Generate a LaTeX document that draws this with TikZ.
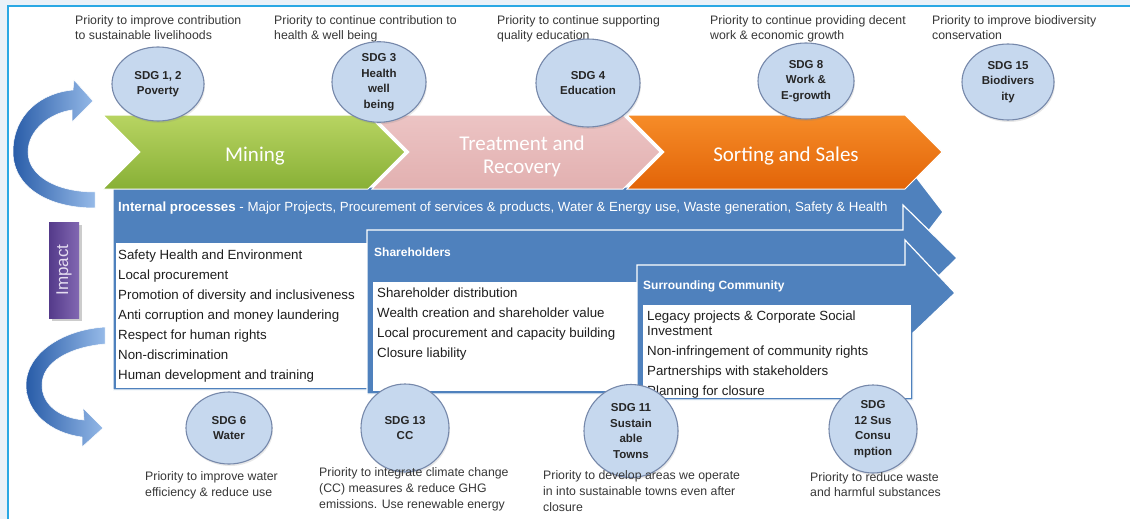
\documentclass[tikz,border=0pt]{standalone}
\usepackage{fontspec}
\setmainfont{Liberation Sans}
\newfontfamily\calib{Carlito}
\usetikzlibrary{shapes.geometric,shadows}
\definecolor{arrowblue}{RGB}{79,129,189}
\definecolor{sdgfill}{RGB}{198,216,238}
\definecolor{sdgline}{RGB}{118,136,170}
\definecolor{frameblue}{RGB}{42,168,228}
\definecolor{bgout}{RGB}{234,241,248}
\definecolor{captxt}{RGB}{55,55,55}
\definecolor{boxtxt}{RGB}{30,30,30}
\definecolor{greenT}{RGB}{184,212,98}
\definecolor{greenB}{RGB}{136,176,54}
\definecolor{pinkT}{RGB}{236,196,196}
\definecolor{pinkB}{RGB}{226,176,176}
\definecolor{orangeT}{RGB}{246,140,40}
\definecolor{orangeB}{RGB}{226,100,8}
\definecolor{cblueD}{RGB}{40,92,168}
\definecolor{cblueL}{RGB}{150,186,232}
\definecolor{purpD}{RGB}{84,58,138}
\definecolor{purpL}{RGB}{130,104,178}
\definecolor{imptxt}{RGB}{228,220,240}
\begin{document}
\begin{tikzpicture}[x=1pt,y=-1pt,
  captext/.style={anchor=base west, inner sep=0, text=captxt, font=\fontsize{12.3}{15}\selectfont},
  itemtext/.style={anchor=base west, inner sep=0, text=boxtxt, font=\fontsize{13.3}{16}\selectfont},
  hdrtext/.style={anchor=base west, inner sep=0, text=white, font=\bfseries\fontsize{12}{14}\selectfont},
  sdgnode/.style={ellipse, draw=sdgline, fill=sdgfill, line width=1.1pt, inner sep=0, align=center, text=black!85, font=\bfseries\fontsize{11.5}{15.5}\selectfont, drop shadow={opacity=0.18, shadow xshift=1pt, shadow yshift=-2pt}},
  stagetext/.style={inner sep=0, align=center, text=white, font=\calib\fontsize{21}{23}\selectfont},
  barrow/.style={fill=arrowblue, draw=white, line width=1.2pt},
  chevshape/.style={draw=white, line width=1pt},
  curvedarrow/.style={left color=cblueD, right color=cblueL, draw=white, line width=0.5pt},
  listbox/.style={fill=white, draw=none}
]
\useasboundingbox (0,0) rectangle (1130,519);
% frame
\fill[bgout] (0,0) rectangle (1130,519);
\fill[white] (8,6) rectangle (1130,519);
\draw[frameblue, line width=2pt] (8,519) -- (8,6) -- (1130,6);

% arrow 1 (internal processes), behind the chevrons
\path[barrow] (113,187) -- (903,187) -- (903,160) -- (943,212) -- (903,264) -- (903,390) -- (113,390) -- cycle;

% chevrons
\shade[chevshape, top color=greenT, bottom color=greenB]
  (103,115) -- (368,115) -- (405,152) -- (368,189) -- (103,189) -- (140,152) -- cycle;
\shade[chevshape, top color=pinkT, bottom color=pinkB]
  (372,115) -- (623,115) -- (660,152) -- (623,189) -- (372,189) -- (409,152) -- cycle;
\shade[chevshape, top color=orangeT, bottom color=orangeB]
  (627,115) -- (905,115) -- (942,152) -- (905,189) -- (627,189) -- (664,152) -- cycle;
\node[stagetext] (mining) at (255,156) {Mining};
\node[stagetext] (treat) at (522,156) {Treatment and\\Recovery};
\node[stagetext] (sort) at (786,156) {Sorting and Sales};

\node[hdrtext, font=\fontsize{13.3}{15}\selectfont] (internal) at (118,211.5) {\textbf{Internal processes} - Major Projects, Procurement of services \& products, Water \& Energy use, Waste generation, Safety \& Health};
\path[listbox] (115.5,243) rectangle (369,388);
\node[itemtext] (l1) at (118,259) {Safety Health and Environment};
\node[itemtext] (l2) at (118,279) {Local procurement};
\node[itemtext] (l3) at (118,299) {Promotion of diversity and inclusiveness};
\node[itemtext] (l4) at (118,319) {Anti corruption and money laundering};
\node[itemtext] (l5) at (118,339) {Respect for human rights};
\node[itemtext] (l6) at (118,359) {Non-discrimination};
\node[itemtext] (l7) at (118,379) {Human development and training};

% arrow 2 (shareholders)
\path[barrow] (367,230) -- (903,230) -- (903,205) -- (957,258) -- (903,311) -- (903,394) -- (367,394) -- cycle;
\node[hdrtext] (share) at (374,256.5) {Shareholders};
\path[listbox] (373,282) rectangle (638,391);
\node[itemtext] (s1) at (377,297) {Shareholder distribution};
\node[itemtext] (s2) at (377,317) {Wealth creation and shareholder value};
\node[itemtext] (s3) at (377,337) {Local procurement and capacity building};
\node[itemtext] (s4) at (377,357) {Closure liability};

% arrow 3 (surrounding community)
\path[barrow] (637,265) -- (905,265) -- (905,240) -- (955,293) -- (913,333) -- (913,400) -- (637,400) -- cycle;
\node[hdrtext] (comm) at (643,289.5) {Surrounding Community};
\path[listbox] (643,305) rectangle (910.5,398);
\begin{scope}
\clip (643,305) rectangle (910,398);
\node[itemtext] (c1) at (647,320) {Legacy projects \& Corporate Social};
\node[itemtext] (c2) at (647,335) {Investment};
\node[itemtext] (c3) at (647,355) {Non-infringement of community rights};
\node[itemtext] (c4) at (647,375) {Partnerships with stakeholders};
\node[itemtext] (c5) at (647,395) {Planning for closure};
\end{scope}

% curved arrows
\shade[curvedarrow] (95,192) -- (95,208)
  .. controls (45,208) and (12,185) .. (13,150)
  .. controls (14,115) and (40,93) .. (73,90)
  -- (74,80) -- (93,101) -- (72,122) -- (72,110)
  .. controls (50,113) and (28,130) .. (28,152)
  .. controls (28,175) and (55,192) .. (95,192) -- cycle;
\shade[curvedarrow] (105,327) -- (105,344)
  .. controls (70,347) and (42,362) .. (42,385)
  .. controls (42,405) and (60,418) .. (84,420)
  -- (83,408) -- (103,428) -- (82,447) -- (82,437)
  .. controls (50,433) and (26,412) .. (26,385)
  .. controls (26,355) and (60,330) .. (105,327) -- cycle;

% impact
\fill[black!20] (52,225) rectangle (82,321);
\shade[left color=purpD, right color=purpL] (49,222) rectangle (79,318);
\node[rotate=90, text=imptxt, font=\fontsize{17}{19}\selectfont, inner sep=0] (impact) at (64,270) {Impact};

% top captions
\node[captext] (t1a) at (75,24.5) {Priority to improve contribution};
\node[captext] (t1b) at (75,40) {to sustainable livelihoods};
\node[captext] (t2a) at (274,24.5) {Priority to continue contribution to};
\node[captext] (t2b) at (274,40) {health \& well being};
\node[captext] (t3a) at (497,24.5) {Priority to continue supporting};
\node[captext] (t3b) at (497,40) {quality education};
\node[captext] (t4a) at (710,24.5) {Priority to continue providing decent};
\node[captext] (t4b) at (710,40) {work \& economic growth};
\node[captext] (t5a) at (932,24.5) {Priority to improve biodiversity};
\node[captext] (t5b) at (932,40) {conservation};

% top SDG ellipses
\node[sdgnode, minimum width=92pt, minimum height=74pt] (e12) at (158,84) {SDG 1, 2\\Poverty};
\node[sdgnode, minimum width=94pt, minimum height=74pt] (e3) at (379,82) {SDG 3\\Health\\well\\being};
\node[sdgnode, minimum width=104pt, minimum height=88pt] (e4) at (588,83) {SDG 4\\Education};
\node[sdgnode, minimum width=96pt, minimum height=76pt] (e8) at (806,81) {SDG 8\\Work \&\\E-growth};
\node[sdgnode, minimum width=92pt, minimum height=76pt] (e15) at (1008,82) {SDG 15\\Biodivers\\ity};

% bottom SDG ellipses
\node[sdgnode, minimum width=86pt, minimum height=72pt] (e6) at (229,428) {SDG 6\\Water};
\node[sdgnode, minimum width=88pt, minimum height=88pt] (e13) at (405,428) {SDG 13\\CC};
\node[sdgnode, minimum width=94pt, minimum height=93pt] (e11) at (631,431) {SDG 11\\Sustain\\able\\Towns};
\node[sdgnode, minimum width=88pt, minimum height=88pt] (e12b) at (873,429) {SDG\\12 Sus\\Consu\\mption};

% bottom captions
\node[captext] (b1a) at (145,480.5) {Priority to improve water};
\node[captext] (b1b) at (145,496.5) {efficiency \& reduce use};
\node[captext] (b2a) at (319,476.5) {Priority to integrate climate change};
\node[captext] (b2b) at (319,492.5) {(CC) measures \& reduce GHG};
\node[captext] (b2c) at (319,508.5) {emissions. Use renewable energy};
\node[captext] (b3a) at (543,479.5) {Priority to develop areas we operate};
\node[captext] (b3b) at (543,495.5) {in into sustainable towns even after};
\node[captext] (b3c) at (543,511.5) {closure};
\node[captext] (b4a) at (810,481.5) {Priority to reduce waste};
\node[captext] (b4b) at (810,496.5) {and harmful substances};
\end{tikzpicture}
\end{document}
